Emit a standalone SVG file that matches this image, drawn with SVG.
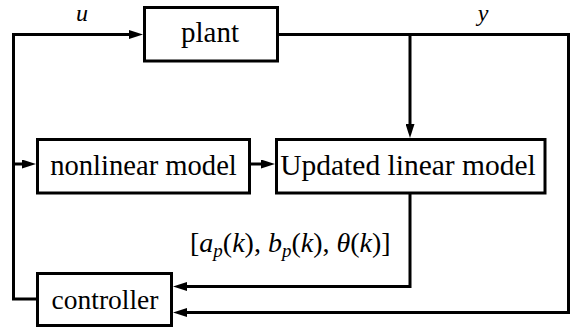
<svg xmlns="http://www.w3.org/2000/svg" width="573" height="329" viewBox="0 0 573 329">
<defs>
<marker id="arr" markerUnits="userSpaceOnUse" markerWidth="14" markerHeight="9" refX="8" refY="4.5" orient="auto">
<path d="M0,0 L14,4.5 L0,9 z" fill="#000"/>
</marker>
</defs>
<g id="connectors" fill="none" stroke="#000" stroke-width="3" marker-end="url(#arr)">
<path d="M36,299 H13.5 V34.5 H137"/>
<path d="M278,34.5 H568.5 V312.5 H179"/>
<path d="M410,34.5 V132"/>
<path d="M13.5,164 H30"/>
<path d="M251,164 H269"/>
<path d="M410,193 V286.5 H179"/>
</g>
<g id="plant">
<rect x="144.5" y="7.5" width="133" height="53.5" fill="#fff" stroke="#000" stroke-width="3"/>
<text x="210" y="42" font-size="29" text-anchor="middle" font-family="Times New Roman, Liberation Serif, serif">plant</text>
</g>
<g id="nonlinear">
<rect x="37.5" y="139.5" width="212" height="53.5" fill="#fff" stroke="#000" stroke-width="3"/>
<text x="143.5" y="175" font-size="28.6" text-anchor="middle" font-family="Times New Roman, Liberation Serif, serif">nonlinear model</text>
</g>
<g id="updated">
<rect x="276.5" y="139.5" width="268.5" height="53.5" fill="#fff" stroke="#000" stroke-width="3"/>
<text x="408" y="175" font-size="29.5" text-anchor="middle" font-family="Times New Roman, Liberation Serif, serif">Updated linear model</text>
</g>
<g id="controller">
<rect x="37.5" y="273.5" width="134" height="52" fill="#fff" stroke="#000" stroke-width="3"/>
<text x="105" y="309" font-size="27.5" text-anchor="middle" font-family="Times New Roman, Liberation Serif, serif">controller</text>
</g>
<g id="labels" font-family="Times New Roman, Liberation Serif, serif">
<text x="82" y="21" font-size="24" font-style="italic" text-anchor="middle">u</text>
<text x="483" y="21" font-size="24" font-style="italic" text-anchor="middle">y</text>
<text x="190" y="252" font-size="28">[<tspan font-style="italic">a</tspan><tspan font-style="italic" font-size="19" dy="5">p</tspan><tspan dy="-5">(</tspan><tspan font-style="italic">k</tspan>), <tspan font-style="italic">b</tspan><tspan font-style="italic" font-size="19" dy="5">p</tspan><tspan dy="-5">(</tspan><tspan font-style="italic">k</tspan>), <tspan font-style="italic">&#952;</tspan>(<tspan font-style="italic">k</tspan>)]</text>
</g>
</svg>
